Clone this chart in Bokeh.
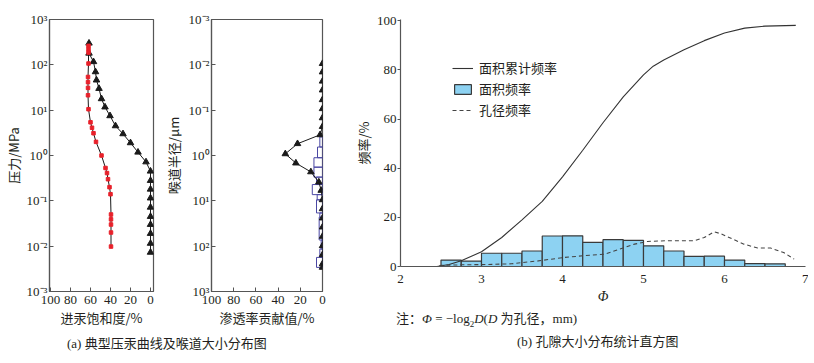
from bokeh.plotting import figure
from bokeh.models import (Range1d, FixedTicker, CustomJSTickFormatter, Legend,
                          LegendItem, Div)
from bokeh.layouts import row, column
from bokeh.embed import file_html
from bokeh.resources import INLINE

# ---------------- data ----------------
# (a) left: capillary pressure curves (saturation %, pressure MPa)
sat_inj = [61.5, 61.5, 57, 55, 54, 51.5, 49, 45.5, 40.5, 35, 27.5, 20, 12.5, 4.5,
           0, 0, 0, 0, 0, 0, 0, 0, 0, 0]
p_inj = [300, 180, 117, 70, 46, 30, 17.8, 11.7, 7.5, 4.5, 3.0, 1.9, 1.18, 0.72,
         0.45, 0.28, 0.18, 0.115, 0.072, 0.045, 0.030, 0.019, 0.0115, 0.0073]
sat_wd = [62, 62, 62, 62, 62.5, 62.5, 62.5, 62.5, 62, 60, 58.5, 57, 54.5, 49, 45,
          43.5, 42.5, 41, 40, 39.5, 39.5, 39.5, 39.5, 39.5]
p_wd = [262, 221, 186, 107, 54, 41.5, 31, 21.3, 10.5, 5.4, 4.1, 3.1, 2.0, 1.0,
        0.53, 0.41, 0.30, 0.20, 0.14, 0.05, 0.039, 0.030, 0.020, 0.0098]

# (a) right: throat radius (um) vs permeability contribution (%)
r_tri = [0.0094, 0.0144, 0.023, 0.036, 0.059, 0.093, 0.148, 0.23, 0.35, 0.55,
         0.92, 1.47, 2.3, 3.85, 5.9, 9.5, 15, 24, 38, 61, 98, 155, 247, 294]
k_tri = [0, 0, 0, 0, 0, 0, 0, 0, 2.2, 22.5, 33.5, 24, 10.5, 3.3, 1.2,
         0, 0, 0, 0, 0, 0, 0, 0, 0]
r_edges = [0.39, 0.65, 1.12, 1.81, 3.0, 4.37, 7.3, 9.5, 18.5, 23, 73, 116, 177, 294]
k_bins = [2.4, 4.5, 7.7, 7.7, 5.4, 9.2, 4.8, 5.4, 2.4, 3.0, 1.2, 2.4, 5.4]

# (b) pore size histogram
phi_edges = [2.5, 2.75, 3.0, 3.25, 3.5, 3.75, 4.0, 4.25, 4.5, 4.75, 5.0, 5.25,
             5.5, 5.75, 6.0, 6.25, 6.5, 6.75]
area_freq = [2.6, 2.2, 5.4, 5.4, 6.3, 12.4, 12.5, 9.8, 10.9, 10.6, 8.4, 6.3,
             4.1, 4.2, 2.6, 1.2, 1.1]
phi_cum = [2.45, 2.6, 2.75, 3.0, 3.25, 3.5, 3.75, 4.0, 4.25, 4.5, 4.75, 5.0,
           5.12, 5.25, 5.5, 5.75, 6.0, 6.25, 6.5, 6.88]
cum_freq = [0, 0.8, 2.3, 6.0, 11.8, 19, 26.5, 36.5, 47.3, 58.5, 69, 78, 81.5,
            84, 88.2, 91.9, 95, 97, 97.8, 98.1]
phi_pore = [2.48, 2.76, 3.05, 3.37, 3.70, 4.03, 4.27, 4.52, 4.68, 4.89, 5.05,
            5.30, 5.63, 5.75, 5.87, 5.95, 6.24, 6.41, 6.57, 6.73, 6.86]
pore_freq = [0.4, 0.7, 0.8, 1.1, 2.3, 3.7, 4.4, 5.0, 6.8, 9.1, 10.2, 10.5, 10.5,
             11.8, 14.1, 13.4, 9.1, 7.5, 7.5, 5.7, 3.0]

pct_ticks = [100, 80, 60, 40, 20, 0]
log_ticks = [1e-3, 1e-2, 1e-1, 1e0, 1e1, 1e2, 1e3]

# ---------------- styles ----------------
SERIF = "Liberation Serif"
CJK = "Noto Sans CJK SC"
INK = "#231f20"
FRAME = "#555555"

sup_js = """
const m = {'-':'\u207b','0':'\u2070','1':'\u00b9','2':'\u00b2','3':'\u00b3',
           '4':'\u2074','5':'\u2075','6':'\u2076','7':'\u2077','8':'\u2078','9':'\u2079'};
const e = Math.round(Math.log10(tick));
return '10' + String(e).split('').map(c => m[c]).join('');
"""


def style_axes(p, tick_in, tick_out):
    p.xgrid.visible = False
    p.ygrid.visible = False
    for ax in (p.xaxis[0], p.yaxis[0]):
        ax.axis_line_color = FRAME
        ax.axis_line_width = 1.2
        ax.major_tick_line_color = FRAME
        ax.major_tick_in = tick_in
        ax.major_tick_out = tick_out
        ax.minor_tick_line_color = None
        ax.major_label_text_font = SERIF
        ax.major_label_text_font_size = "13px"
        ax.major_label_text_color = INK
        ax.axis_label_text_font = CJK
        ax.axis_label_text_font_size = "13px"
        ax.axis_label_text_font_style = "normal"
        ax.axis_label_text_color = INK
        ax.major_label_standoff = 2
        ax.axis_label_standoff = 1


def boxed(p):
    p.outline_line_color = FRAME
    p.outline_line_width = 1.2
    p.outline_line_alpha = 1


# ---------------- panel (a) left ----------------
p1 = figure(frame_width=104, frame_height=272, x_range=Range1d(101, -3),
            y_range=Range1d(1e-3, 1e3), y_axis_type="log",
            output_backend="svg", toolbar_location=None,
            min_border_left=49, min_border_right=7, min_border_top=19,
            min_border_bottom=45)
style_axes(p1, 4, 0)
boxed(p1)
p1.xaxis.major_label_standoff = 4
p1.xaxis.ticker = FixedTicker(ticks=pct_ticks, minor_ticks=[])
p1.yaxis.ticker = FixedTicker(ticks=log_ticks, minor_ticks=[])
p1.yaxis.formatter = CustomJSTickFormatter(code=sup_js)
p1.xaxis.axis_label = "进汞饱和度/%"
p1.yaxis.axis_label = "压力/MPa"
p1.line(sat_inj, p_inj, line_color="#1a1a1a", line_width=1)
p1.scatter(sat_inj, p_inj, marker="triangle", size=6.5, color="#1a1a1a")
p1.line(sat_wd, p_wd, line_color="#1a1a1a", line_width=1)
p1.scatter(sat_wd, p_wd, marker="square", size=3.5, color="#e8202a")

# ---------------- panel (a) right ----------------
p2 = figure(frame_width=111, frame_height=272, x_range=Range1d(100, 0),
            y_range=Range1d(1e3, 1e-3), y_axis_type="log",
            output_backend="svg", toolbar_location=None,
            min_border_left=49, min_border_right=10, min_border_top=19,
            min_border_bottom=45)
style_axes(p2, 4, 0)
boxed(p2)
p2.xaxis.major_label_standoff = 4
p2.yaxis.axis_label_standoff = 3
p2.xaxis.ticker = FixedTicker(ticks=pct_ticks, minor_ticks=[])
p2.yaxis.ticker = FixedTicker(ticks=log_ticks, minor_ticks=[])
p2.yaxis.formatter = CustomJSTickFormatter(code=sup_js)
p2.xaxis.axis_label = "渗透率贡献值/%"
p2.yaxis.axis_label = "喉道半径/μm"
p2.quad(left=0, right=k_bins, bottom=r_edges[:-1], top=r_edges[1:],
        fill_color=None, line_color="#4a47a3", line_width=1)
p2.line(k_tri, r_tri, line_color="#1a1a1a", line_width=1)
p2.scatter(k_tri, r_tri, marker="triangle", size=6.5, color="#1a1a1a")

# ---------------- panel (b) ----------------
p3 = figure(frame_width=405, frame_height=247, x_range=Range1d(2, 7),
            y_range=Range1d(0, 100.5), output_backend="svg",
            toolbar_location=None, min_border_left=68, min_border_right=3,
            min_border_top=19, min_border_bottom=45)
style_axes(p3, 0, 3)
p3.outline_line_color = None
p3.xaxis.major_tick_out = 0
p3.xaxis.major_label_standoff = 8
p3.xaxis.axis_label_standoff = 3
p3.xaxis.ticker = FixedTicker(ticks=[2, 3, 4, 5, 6, 7], minor_ticks=[])
p3.yaxis.ticker = FixedTicker(ticks=[0, 20, 40, 60, 80, 100], minor_ticks=[])
p3.yaxis.major_label_standoff = 1
p3.xaxis.axis_label = "Φ"
p3.xaxis.axis_label_text_font = SERIF
p3.xaxis.axis_label_text_font_style = "italic"
p3.xaxis.axis_label_text_font_size = "14px"
p3.yaxis.axis_label = "频率/%"

r_bar = p3.quad(left=phi_edges[:-1], right=phi_edges[1:], bottom=0, top=area_freq,
                fill_color="#8dd2f2", line_color="#3a3a3a", line_width=1.2)
r_cum = p3.line(phi_cum, cum_freq, line_color="#333333", line_width=1.1)
r_pore = p3.line(phi_pore, pore_freq, line_color="#444444", line_width=1.1,
                 line_dash="4 3")

leg = Legend(items=[LegendItem(label="面积累计频率", renderers=[r_cum]),
                    LegendItem(label="面积频率", renderers=[r_bar]),
                    LegendItem(label="孔径频率", renderers=[r_pore])],
             location=(52, 146), padding=0, margin=0, spacing=0,
             glyph_width=21, glyph_height=12, label_height=21, label_standoff=6,
             border_line_color=None, background_fill_alpha=0,
             label_text_font=CJK, label_text_font_size="13px",
             label_text_color=INK)
p3.add_layout(leg)

# ---------------- captions ----------------
TXT = ("font-family:'Liberation Serif','Noto Sans CJK SC',serif;font-size:13px;"
       "line-height:14px;color:#231f20;white-space:nowrap;")
cap_a = Div(text=f'<div style="{TXT}padding-left:67px;padding-top:0px;">'
                 '(a) 典型压汞曲线及喉道大小分布图</div>',
            width=330, height=20, margin=0)
note = Div(text=f'<div style="{TXT}padding-left:64px;padding-top:0px;">'
                '注：<i>Φ</i> = −log<sub style="font-size:9px;line-height:0;">2</sub>'
                '<i>D</i>(<i>D</i> 为孔径，mm)</div>',
           width=476, height=16, margin=0)
cap_b = Div(text=f'<div style="{TXT}padding-left:185px;padding-top:8px;">'
                 '(b) 孔隙大小分布统计直方图</div>',
            width=476, height=24, margin=0)

layout = row(column(row(p1, p2), cap_a), column(p3, note, cap_b))

open("out.html", "w").write(file_html(layout, INLINE))
